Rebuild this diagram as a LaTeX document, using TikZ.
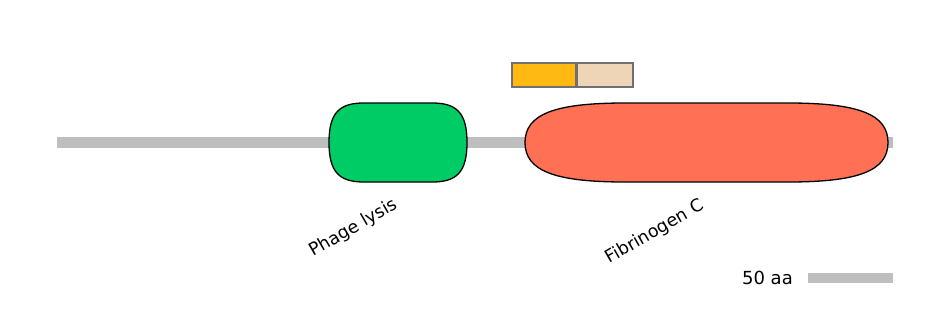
\documentclass[tikz,border=0pt]{standalone}
\usepackage{fontspec}
\setmainfont{DejaVu Sans}
\definecolor{bbgray}{RGB}{190,190,190}
\definecolor{domgreen}{RGB}{0,204,102}
\definecolor{domred}{RGB}{255,112,85}
\definecolor{motifyellow}{RGB}{255,185,18}
\definecolor{motifbeige}{RGB}{238,213,183}
\definecolor{motifedge}{RGB}{112,112,112}
\usetikzlibrary{positioning}

\begin{document}
\begin{tikzpicture}[
  x=1pt,y=-1pt,
  every node/.style={font=\fontsize{17.5}{20}\selectfont,inner sep=0pt},
  backbone/.style={line width=11pt,bbgray},
  pfamdom/.style={draw=black,line width=1.3pt},
  motif/.style={draw=motifedge,line width=1.3pt},
  domlabel/.style={anchor=north east,rotate=30},
]
  \useasboundingbox (0,0) rectangle (944,330);

  % Backbone
  \coordinate (bbstart) at (57,142.5);
  \coordinate (bbend) at (893,142.5);
  \draw[backbone] (bbstart) -- (bbend);

  % Motifs above the backbone
  \draw[motif,fill=motifyellow] (512,63) rectangle (576,87);
  \draw[motif,fill=motifbeige] (577,63) rectangle (633,87);

  % Domain: Phage lysis
  \draw[pfamdom,fill=domgreen] (329,142.5)
    .. controls (329,112) and (340,103) .. (364,103) -- (432,103)
    .. controls (456,103) and (467,112) .. (467,142.5)
    .. controls (467,173) and (456,182) .. (432,182) -- (364,182)
    .. controls (340,182) and (329,173) .. (329,142.5) -- cycle;
  \coordinate (lysis) at (398,182);

  % Domain: Fibrinogen C
  \draw[pfamdom,fill=domred] (525,142.5)
    .. controls (525,114) and (555,103) .. (625,103) -- (788,103)
    .. controls (858,103) and (888,114) .. (888,142.5)
    .. controls (888,171) and (858,182) .. (788,182) -- (625,182)
    .. controls (555,182) and (525,171) .. (525,142.5) -- cycle;
  \coordinate (fibc) at (706,182);

  % Labels
  \node[domlabel] (lysislabel) at ([xshift=-6pt,yshift=-14pt]lysis) {Phage lysis};
  \node[domlabel] (fibclabel) at ([xshift=-8pt,yshift=-15pt]fibc) {Fibrinogen C};

  % Scale
  \coordinate (scalestart) at (808,278);
  \coordinate (scaleend) at (893,278);
  \draw[line width=10pt,bbgray] (scalestart) -- (scaleend);
  \node[anchor=east,font=\fontsize{18}{21}\selectfont] (scalelabel) at ([xshift=-15pt]scalestart) {50 aa};
\end{tikzpicture}
\end{document}
